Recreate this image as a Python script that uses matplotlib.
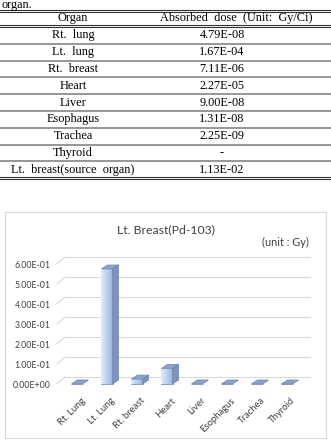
import numpy as np
import matplotlib
matplotlib.use('Agg')
import matplotlib.pyplot as plt
from matplotlib.patches import Polygon, Rectangle
from matplotlib.colors import LinearSegmentedColormap

# table data
organs = ['Rt.  lung', 'Lt.  lung', 'Rt.  breast', 'Heart', 'Liver',
          'Esophagus', 'Trachea', 'Thyroid', 'Lt.  breast(source  organ)']
doses = ['4.79E-08', '1.67E-04', '7.11E-06', '2.27E-05', '9.00E-08',
         '1.31E-08', '2.25E-09', '-', '1.13E-02']

# chart data (Gy)
chart_labels = ['Rt. Lung', 'Lt. Lung', 'Rt. breast', 'Heart', 'Liver',
                'Esophagus', 'Trachea', 'Thyroid']
chart_values = [0.0002, 0.575, 0.0245, 0.078, 0.0003, 0.0, 0.0, 0.0]
y_ticks = [0.0, 0.1, 0.2, 0.3, 0.4, 0.5, 0.6]

serif = 'Liberation Serif'
sans = 'Lato'

dpi = 100
fig = plt.figure(figsize=(331 / dpi, 440 / dpi), dpi=dpi)

# background axes in pixel units
bg = fig.add_axes([0, 0, 1, 1])
bg.set_xlim(0, 331)
bg.set_ylim(440, 0)
bg.axis('off')

# ---- table ----
fs = 8.8
bg.text(2, 8, 'organ.', family=serif, fontsize=fs, va='baseline', ha='left')
for y in (10, 12, 25, 27, 177.5, 179.5):
    bg.plot([0, 331], [y, y], color='#333333', lw=0.8)
bg.text(73, 18.5, 'Organ', family=serif, fontsize=fs, ha='center', va='center')
bg.text(236, 18.5, 'Absorbed  dose  (Unit:  Gy/Ci)', family=serif, fontsize=fs,
        ha='center', va='center')
row_h = 16.8
for i, (org, d) in enumerate(zip(organs, doses)):
    yc = 27 + row_h * (i + 0.5)
    bg.text(73, yc, org, family=serif, fontsize=fs, ha='center', va='center')
    bg.text(222, yc, d, family=serif, fontsize=fs, ha='center', va='center')
    if i < len(organs) - 1:
        bg.plot([0, 331], [27 + row_h * (i + 1)] * 2, color='#7a7a7a', lw=1.1)

# ---- chart frame and titles ----
bg.add_patch(Rectangle((5, 212), 321, 226, fill=False, ec='#d9d9d9', lw=0.8))
bg.text(166, 230, 'Lt. Breast(Pd-103)', family=sans, fontsize=8.8,
        ha='center', va='center', color='#404040')
bg.text(285, 242, '(unit : Gy)', family=sans, fontsize=7.8,
        ha='center', va='center', color='#404040')

# ---- chart axes ----
ax = fig.add_axes([47 / 331, 45 / 440, 270 / 331, 150 / 440])
ax.set_xlim(-1, 8)
ax.set_ylim(-0.055, 0.695)
ax.axis('off')

gdx, gdy = 0.27, 0.035
for v in y_ticks:
    ax.plot([-0.67, -0.67 + gdx], [v, v + gdy], color='#d9d9d9', lw=0.8)
    ax.plot([-0.67 + gdx, 7.75], [v + gdy, v + gdy], color='#d9d9d9', lw=0.8)
    ax.text(-0.88, v - 0.005, '{:.2E}'.format(v), family=sans, fontsize=6.3,
            ha='right', va='center', color='#404040')

x = np.arange(len(chart_values))
w = 0.37
dx, dy = 0.2, 0.02
cmap = LinearSegmentedColormap.from_list('bar', ['#e4edf9', '#bcd0f0', '#9bb6e3'])
edge = '#6a84b0'

bars = ax.bar(x, chart_values, width=w, color='#bcd0f0', edgecolor=edge,
              linewidth=0.5, zorder=3)
for xi, v, b in zip(x, chart_values, bars):
    x0, x1 = xi - w / 2, xi + w / 2
    if v > 0.005:
        im = ax.imshow(np.linspace(0, 1, 50).reshape(1, -1), cmap=cmap,
                       extent=[x0, x1, 0, v], aspect='auto', zorder=3.5)
        im.set_clip_path(b)
        side = Polygon([(x1, 0), (x1 + dx, dy), (x1 + dx, v + dy), (x1, v)],
                       closed=True, fc='#7e93bd', ec=edge, lw=0.5, zorder=4)
        ax.add_patch(side)
    top = Polygon([(x0, v), (x1, v), (x1 + dx, v + dy), (x0 + dx, v + dy)],
                  closed=True, fc='#8ba2cb', ec=edge, lw=0.5, zorder=4)
    ax.add_patch(top)

ax.set_xlim(-1, 8)
ax.set_ylim(-0.055, 0.695)

for xi, lab in zip(x, chart_labels):
    ax.text(xi + 0.12, -0.06, lab, family=sans, fontsize=6.8, rotation=45,
            ha='right', va='top', rotation_mode='anchor', color='#404040')

fig.savefig('out.png', dpi=dpi)
